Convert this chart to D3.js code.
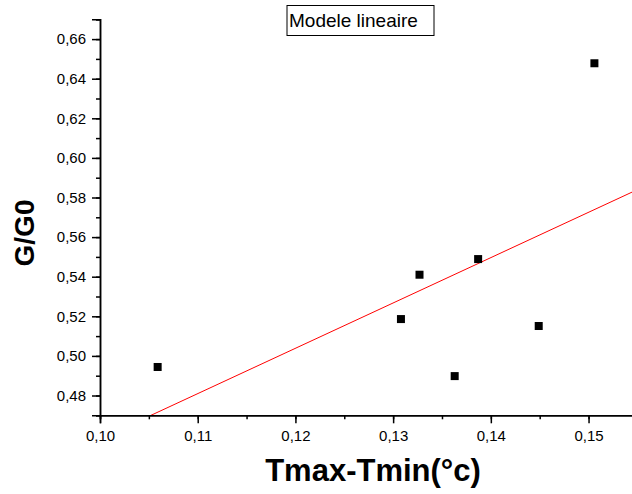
<!DOCTYPE html>
<html>
<head>
<meta charset="utf-8">
<script src="https://cdn.jsdelivr.net/npm/d3@7"></script>
<style>
  body { margin: 0; background: #fff; }
  svg { display: block; font-family: Arial, "Liberation Sans", sans-serif; }
  .axis text { font-size: 15px; font-family: Arial, "Liberation Sans", sans-serif; fill: #000; }
</style>
</head>
<body>
<svg class="chart"></svg>
<script>
const xValues = [0.1059, 0.1308, 0.1327, 0.1363, 0.1387, 0.1449, 0.1506];
const yValues = [0.4944, 0.5186, 0.5410, 0.4898, 0.5489, 0.5151, 0.6478];
const xTicks = [0.10, 0.11, 0.12, 0.13, 0.14, 0.15];
const yTicks = [0.48, 0.50, 0.52, 0.54, 0.56, 0.58, 0.60, 0.62, 0.64, 0.66];
const titleText = 'Modele lineaire';
const xLabel = 'Tmax-Tmin(°c)';
const yLabel = 'G/G0';

const width = 632,
      height = 494;

const chart = d3.select('.chart')
                .attr('width', width)
                .attr('height', height);

const xScale = d3.scaleLinear()
                 .domain([0.10, 0.155])
                 .range([100, 637.4]);

const yScale = d3.scaleLinear()
                 .domain([0.47, 0.67])
                 .range([415.3, 19.3]);

const fmt = d => d3.format('.2f')(d).replace('.', ',');

// least squares fit of the points
const mx = d3.mean(xValues), my = d3.mean(yValues);
let sxy = 0, sxx = 0;
xValues.forEach((x, i) => {
  sxy += (x - mx) * (yValues[i] - my);
  sxx += (x - mx) * (x - mx);
});
const slope = sxy / sxx,
      intercept = my - slope * mx;

chart.append('clipPath')
     .attr('id', 'plot-clip')
     .append('rect')
     .attr('x', xScale(0.10))
     .attr('y', yScale(0.67))
     .attr('width', xScale(0.155) - xScale(0.10))
     .attr('height', yScale(0.47) - yScale(0.67));

const fitX = xScale.domain();
chart.append('line')
     .attr('clip-path', 'url(#plot-clip)')
     .attr('x1', xScale(fitX[0]))
     .attr('y1', yScale(intercept + slope * fitX[0]))
     .attr('x2', xScale(fitX[1]))
     .attr('y2', yScale(intercept + slope * fitX[1]))
     .attr('stroke', '#ff0000')
     .attr('stroke-width', 1);

// minor ticks
const xMinor = d3.range(0.10, 0.1551, 0.005);
const yMinor = d3.range(0.47, 0.6701, 0.01);

const yAxisMinor = d3.axisLeft(yScale).tickValues(yMinor).tickSize(4).tickFormat('');
const xAxisMinor = d3.axisBottom(xScale).tickValues(xMinor).tickSize(4).tickFormat('');

const yAxis = d3.axisLeft(yScale).tickValues(yTicks).tickSize(8).tickPadding(6).tickFormat(fmt);
const xAxis = d3.axisBottom(xScale).tickValues(xTicks).tickSize(8).tickPadding(7).tickFormat(fmt);

[yAxisMinor, yAxis].forEach(ax => {
  chart.append('g')
       .attr('class', 'axis')
       .attr('transform', 'translate(' + xScale(0.10) + ',0)')
       .call(ax)
       .attr('font-size', 15)
       .attr('font-family', null);
});
[xAxisMinor, xAxis].forEach(ax => {
  chart.append('g')
       .attr('class', 'axis')
       .attr('transform', 'translate(0,' + yScale(0.47) + ')')
       .call(ax)
       .attr('font-size', 15)
       .attr('font-family', null);
});

chart.selectAll('.domain, .tick line')
     .attr('stroke', '#000')
     .attr('stroke-width', 1.5);

chart.selectAll('rect.pt')
     .data(xValues)
     .enter()
     .append('rect')
     .attr('class', 'pt')
     .attr('x', d => xScale(d) - 4)
     .attr('y', (d, i) => yScale(yValues[i]) - 4)
     .attr('width', 8)
     .attr('height', 8)
     .attr('fill', '#000');

// title box
chart.append('text')
     .attr('x', 289)
     .attr('y', 27)
     .style('font-size', '19px')
     .attr('fill', '#000')
     .text(titleText);
chart.append('rect')
     .attr('x', 287)
     .attr('y', 5.5)
     .attr('width', 434 - 287)
     .attr('height', 30)
     .attr('fill', 'none')
     .attr('stroke', '#000')
     .attr('stroke-width', 1);

chart.append('text')
     .attr('x', 373)
     .attr('y', 481)
     .attr('text-anchor', 'middle')
     .style('font-size', '31px')
     .style('font-weight', 'bold')
     .attr('fill', '#000')
     .text(xLabel);

chart.append('text')
     .attr('transform', 'translate(34,233) rotate(-90)')
     .attr('text-anchor', 'middle')
     .style('font-size', '28px')
     .style('font-weight', 'bold')
     .attr('fill', '#000')
     .text(yLabel);
</script>
</body>
</html>
